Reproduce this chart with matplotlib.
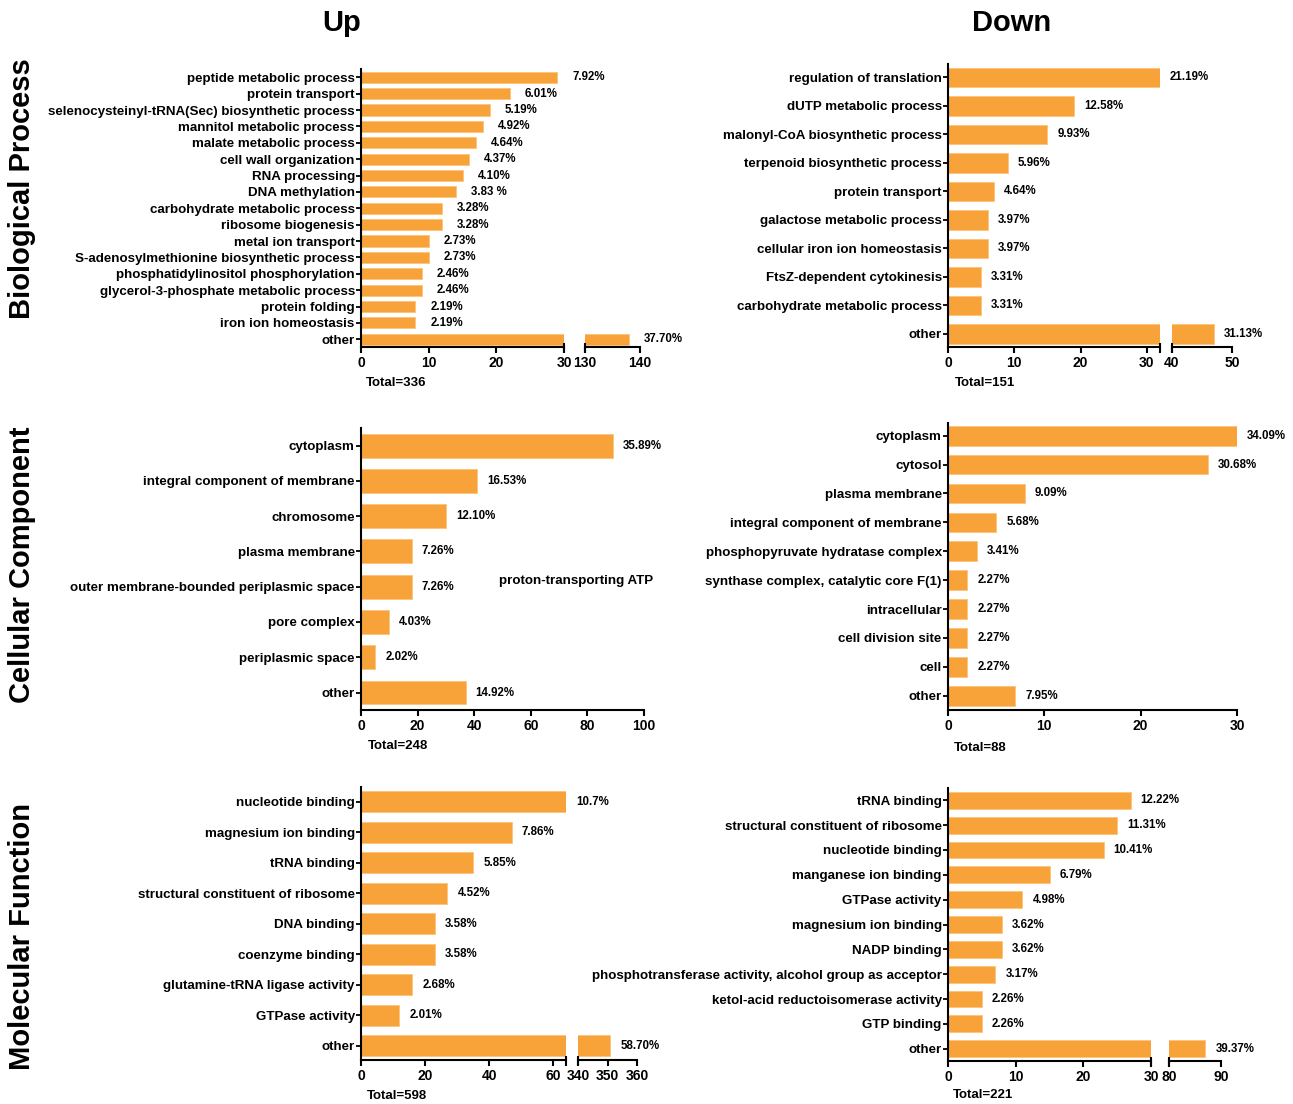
import numpy as np
import matplotlib
matplotlib.use("Agg")
import matplotlib.pyplot as plt

plt.rcParams['font.family'] = ['Liberation Sans', 'DejaVu Sans']

# ---- data (counts, labels as printed) ----
up_bp_terms = ["peptide metabolic process", "protein transport",
               "selenocysteinyl-tRNA(Sec) biosynthetic process", "mannitol metabolic process",
               "malate metabolic process", "cell wall organization", "RNA processing",
               "DNA methylation", "carbohydrate metabolic process", "ribosome biogenesis",
               "metal ion transport", "S-adenosylmethionine biosynthetic process",
               "phosphatidylinositol phosphorylation", "glycerol-3-phosphate metabolic process",
               "protein folding", "iron ion homeostasis", "other"]
up_bp_counts = [29, 22, 19, 18, 17, 16, 15, 14, 12, 12, 10, 10, 9, 9, 8, 8, 138]
up_bp_pct = ["7.92%", "6.01%", "5.19%", "4.92%", "4.64%", "4.37%", "4.10%", "3.83 %", "3.28%",
             "3.28%", "2.73%", "2.73%", "2.46%", "2.46%", "2.19%", "2.19%", "37.70%"]
up_bp_total = 336

down_bp_terms = ["regulation of translation", "dUTP metabolic process",
                 "malonyl-CoA biosynthetic process", "terpenoid biosynthetic process",
                 "protein transport", "galactose metabolic process",
                 "cellular iron ion homeostasis", "FtsZ-dependent cytokinesis",
                 "carbohydrate metabolic process", "other"]
down_bp_counts = [32, 19, 15, 9, 7, 6, 6, 5, 5, 47]
down_bp_pct = ["21.19%", "12.58%", "9.93%", "5.96%", "4.64%", "3.97%", "3.97%", "3.31%",
               "3.31%", "31.13%"]
down_bp_total = 151

up_cc_terms = ["cytoplasm", "integral component of membrane", "chromosome", "plasma membrane",
               "outer membrane-bounded periplasmic space", "pore complex", "periplasmic space",
               "other"]
up_cc_counts = [89, 41, 30, 18, 18, 10, 5, 37]
up_cc_pct = ["35.89%", "16.53%", "12.10%", "7.26%", "7.26%", "4.03%", "2.02%", "14.92%"]
up_cc_total = 248

down_cc_terms = ["cytoplasm", "cytosol", "plasma membrane", "integral component of membrane",
                 "phosphopyruvate hydratase complex", "synthase complex, catalytic core F(1)",
                 "intracellular", "cell division site", "cell", "other"]
down_cc_counts = [30, 27, 8, 5, 3, 2, 2, 2, 2, 7]
down_cc_pct = ["34.09%", "30.68%", "9.09%", "5.68%", "3.41%", "2.27%", "2.27%", "2.27%",
               "2.27%", "7.95%"]
down_cc_total = 88
down_cc_overflow = "proton-transporting ATP"

up_mf_terms = ["nucleotide binding", "magnesium ion binding", "tRNA binding",
               "structural constituent of ribosome", "DNA binding", "coenzyme binding",
               "glutamine-tRNA ligase activity", "GTPase activity", "other"]
up_mf_counts = [64, 47, 35, 27, 23, 23, 16, 12, 351]
up_mf_pct = ["10.7%", "7.86%", "5.85%", "4.52%", "3.58%", "3.58%", "2.68%", "2.01%", "58.70%"]
up_mf_total = 598

down_mf_terms = ["tRNA binding", "structural constituent of ribosome", "nucleotide binding",
                 "manganese ion binding", "GTPase activity", "magnesium ion binding",
                 "NADP binding", "phosphotransferase activity, alcohol group as acceptor",
                 "ketol-acid reductoisomerase activity", "GTP binding", "other"]
down_mf_counts = [27, 25, 23, 15, 11, 8, 8, 7, 5, 5, 87]
down_mf_pct = ["12.22%", "11.31%", "10.41%", "6.79%", "4.98%", "3.62%", "3.62%", "3.17%",
               "2.26%", "2.26%", "39.37%"]
down_mf_total = 221

ORANGE = "#F8A23A"
EDGE = "#FBC47A"
W, H = 1293, 1104

fig = plt.figure(figsize=(W / 100, H / 100), dpi=100)


def fx(x):
    return x / W


def fy(y):
    return 1 - y / H


def draw_panel(terms, counts, pcts, total, segs, c0, c1, top, axis_y, total_xy, lab_off):
    # segs: (x0 px, x1 px, xmin, xmax, ticks); c0/c1 = pixel centre of first/last bar
    n = len(terms)
    s = (c1 - c0) / (n - 1)
    ypos = np.arange(n)
    axes = []
    for k, (x0, x1, lo, hi, ticks) in enumerate(segs):
        ax = fig.add_axes([fx(x0), fy(axis_y), (x1 - x0) / W, (axis_y - top) / H])
        ax.barh(ypos, counts, height=0.68, color=ORANGE, edgecolor=EDGE, linewidth=0.6)
        ax.set_xlim(lo, hi)
        ax.set_ylim((axis_y - c0) / s, (top - c0) / s)
        ax.set_xticks(ticks)
        ax.set_xticklabels([str(t) for t in ticks], fontsize=10, fontweight='bold')
        ax.tick_params(axis='x', length=4, width=1.5, pad=2.5)
        ax.spines['top'].set_visible(False)
        ax.spines['right'].set_visible(False)
        ax.spines['bottom'].set_linewidth(1.5)
        if k == 0:
            ax.set_yticks(ypos)
            ax.set_yticklabels(terms, fontsize=9.6, fontweight='bold')
            ax.tick_params(axis='y', length=3.5, width=1.3, pad=1)
            ax.spines['left'].set_linewidth(1.5)
        else:
            ax.spines['left'].set_visible(False)
            ax.set_yticks([])
        ax.patch.set_alpha(0)
        axes.append(ax)
    if len(segs) > 1:
        h = axis_y - top
        for ax, xa in [(axes[0], 1), (axes[-1], 0)]:
            ax.plot([xa, xa], [4.0 / h, -5.5 / h], color='black', lw=1.5,
                    transform=ax.transAxes, clip_on=False, solid_capstyle='butt')
    for i, (v, p) in enumerate(zip(counts, pcts)):
        target = axes[0] if v <= segs[0][3] else axes[-1]
        target.annotate(p, xy=(v, i), xytext=(lab_off * 0.72, 0), textcoords='offset points',
                        va='center', ha='left', fontsize=8.3, fontweight='bold',
                        annotation_clip=False)
    fig.text(fx(total_xy[0]), fy(total_xy[1]), "Total=%d" % total, ha='center', va='center',
             fontsize=9.5, fontweight='bold')
    return axes


draw_panel(up_bp_terms, up_bp_counts, up_bp_pct, up_bp_total,
           [(361, 564, 0, 30, [0, 10, 20, 30]), (585, 640, 130, 140, [130, 140])],
           77.3, 339.3, 69, 347, (396, 383), 15)
draw_panel(down_bp_terms, down_bp_counts, down_bp_pct, down_bp_total,
           [(948, 1160, 0, 32, [0, 10, 20, 30]), (1172, 1232, 40, 50, [40, 50])],
           77.3, 334, 64, 347, (985, 383), 10)
draw_panel(up_cc_terms, up_cc_counts, up_cc_pct, up_cc_total,
           [(361, 644, 0, 100, [0, 20, 40, 60, 80, 100])],
           445.7, 692.5, 428, 709.5, (398, 746), 10)
draw_panel(down_cc_terms, down_cc_counts, down_cc_pct, down_cc_total,
           [(948, 1237, 0, 30, [0, 10, 20, 30])],
           435.7, 695.7, 423, 710, (980, 748), 10)
draw_panel(up_mf_terms, up_mf_counts, up_mf_pct, up_mf_total,
           [(361, 566, 0, 64, [0, 20, 40, 60]), (578, 637, 340, 360, [340, 350, 360])],
           801.7, 1045.7, 787, 1060, (397, 1096), 10)
draw_panel(down_mf_terms, down_mf_counts, down_mf_pct, down_mf_total,
           [(948, 1151, 0, 30, [0, 10, 20, 30]), (1169, 1221, 80, 90, [80, 90])],
           800.3, 1048.7, 788, 1061, (983, 1095), 10)

# first line of the wrapped CC label that spilled into the left panel
fig.text(fx(653), fy(581), down_cc_overflow, ha='right', va='center', fontsize=9.6,
         fontweight='bold')

fig.text(fx(342), fy(23), "Up", ha='center', va='center', fontsize=21, fontweight='bold')
fig.text(fx(1012), fy(23), "Down", ha='center', va='center', fontsize=21, fontweight='bold')
for label, yc in [("Biological Process", 189), ("Cellular Component", 565),
                  ("Molecular Function", 937)]:
    fig.text(fx(22), fy(yc), label, rotation=90, ha='center', va='center', fontsize=21,
             fontweight='bold')

fig.savefig("out.png", dpi=100)
